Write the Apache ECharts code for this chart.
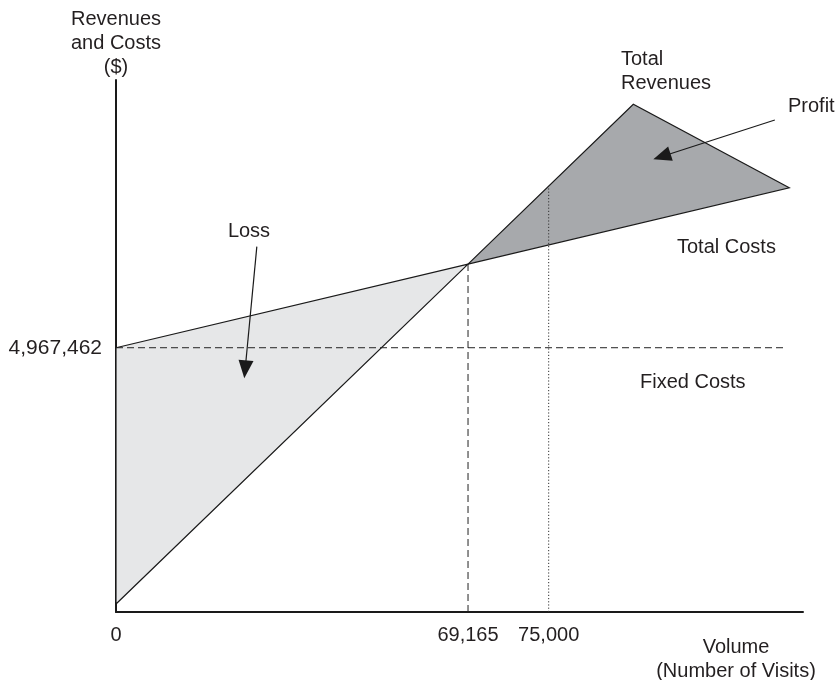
<!DOCTYPE html>
<html>
<head>
<meta charset="utf-8">
<script src="https://cdn.jsdelivr.net/npm/echarts@6/dist/echarts.min.js"></script>
<style>
  html, body { margin: 0; padding: 0; background: #fff; }
  #chart { width: 838px; height: 680px; }
</style>
</head>
<body>
<div id="chart"></div>
<script>
// ---- Data (x axis is schematic: 0..100 chart units; y axis in dollars) ----
const xTickPositions = [0, 51.24, 62.98];           // schematic positions of labelled volumes
const xTickLabels = ['0', '69,165', '75,000'];       // volume (number of visits)
const fixedCosts = 4967462;
const yTickValues = [fixedCosts];
const breakEvenX = 51.24;
const breakEvenY = 6540000;
const visits75kX = 62.98;
const revenueAt75k = 8000000;
const totalRevenues = [[0, 150000], [breakEvenX, breakEvenY], [75.3, 9543000]];
const totalCosts = [[0, fixedCosts], [breakEvenX, breakEvenY], [98.0, 7975000]];
const fixedCostLine = [[0, fixedCosts], [97.2, fixedCosts]];
const breakEvenLine = [[breakEvenX, 0], [breakEvenX, breakEvenY]];
const visits75kLine = [[visits75kX, 0], [visits75kX, revenueAt75k]];
const lossArrow = [[20.5, 6867000], [18.8, 4562000]];
const profitArrow = [[95.9, 9248000], [79.46, 8562000]];

const lossPolygon = [totalCosts[0], totalCosts[1], totalRevenues[0]];
const profitPolygon = [totalRevenues[1], totalRevenues[2], totalCosts[2]];

const FONT = "'Liberation Sans', Arial, Helvetica, sans-serif";
const TXT = '#231f20';
const INK = '#1a1a1a';

function polygonSeries(points, fill) {
  return {
    type: 'custom',
    silent: true,
    animation: false,
    data: points,
    renderItem: function (params, api) {
      if (params.dataIndex !== 0) return;
      const pts = points.map(p => api.coord(p));
      return {
        type: 'polygon',
        shape: { points: pts },
        style: { fill: fill, stroke: INK, lineWidth: 1.2 }
      };
    },
    z: 2
  };
}

function guideSeries(data, dash, color) {
  return {
    type: 'line', data: data, symbol: 'none', silent: true, animation: false,
    lineStyle: { color: color, width: 1, type: dash }, z: 3
  };
}

function arrowPair(a) {
  return [{ coord: a[0], symbol: 'none' }, { coord: a[1], symbol: 'triangle' }];
}

function label(text, x, y, align) {
  return {
    type: 'text', x: x, y: y, silent: true,
    style: {
      text: text, font: '20px ' + FONT, fill: TXT,
      align: align || 'left', verticalAlign: 'middle', lineHeight: 24
    }
  };
}

const chart = echarts.init(document.getElementById('chart'), null, { renderer: 'canvas' });
chart.setOption({
  animation: false,
  backgroundColor: '#ffffff',
  grid: { left: 116, right: 35, top: 80, bottom: 68 },
  xAxis: {
    type: 'value', min: 0, max: 100,
    axisLine: { show: true, onZero: false, lineStyle: { color: INK, width: 2 } },
    axisTick: { show: false },
    splitLine: { show: false },
    axisLabel: {
      customValues: xTickPositions,
      formatter: function (v) {
        const i = xTickPositions.findIndex(p => Math.abs(p - v) < 1e-6);
        return i >= 0 ? xTickLabels[i] : '';
      },
      margin: 13, fontSize: 20, fontFamily: FONT, color: TXT
    }
  },
  yAxis: {
    type: 'value', min: 0, max: 10000000,
    axisLine: { show: true, onZero: false, lineStyle: { color: INK, width: 2 } },
    axisTick: { show: false },
    splitLine: { show: false },
    axisLabel: {
      customValues: yTickValues,
      formatter: function (v) { return Math.round(v).toLocaleString('en-US'); },
      margin: 14, fontSize: 21, fontFamily: FONT, color: TXT
    }
  },
  series: [
    polygonSeries(lossPolygon, '#e6e7e8'),
    polygonSeries(profitPolygon, '#a7a9ac'),
    guideSeries(fixedCostLine, [7, 4], '#222222'),
    guideSeries(breakEvenLine, [7, 4], '#222222'),
    guideSeries(visits75kLine, [1.2, 2], '#333333'),
    {
      type: 'line', data: [], silent: true, animation: false,
      markLine: {
        silent: true, animation: false,
        symbolSize: [15, 18],
        label: { show: false },
        lineStyle: { color: INK, width: 1.2, type: 'solid' },
        itemStyle: { color: INK },
        data: [arrowPair(lossArrow), arrowPair(profitArrow)]
      },
      z: 5
    }
  ],
  graphic: [
    label('Revenues\nand Costs\n($)', 116, 43, 'center'),
    label('Total\nRevenues', 621, 71),
    label('Profit', 788, 106),
    label('Total Costs', 677, 247),
    label('Fixed Costs', 640, 382),
    label('Loss', 249, 231, 'center'),
    label('Volume\n(Number of Visits)', 736, 659, 'center')
  ]
});
</script>
</body>
</html>
